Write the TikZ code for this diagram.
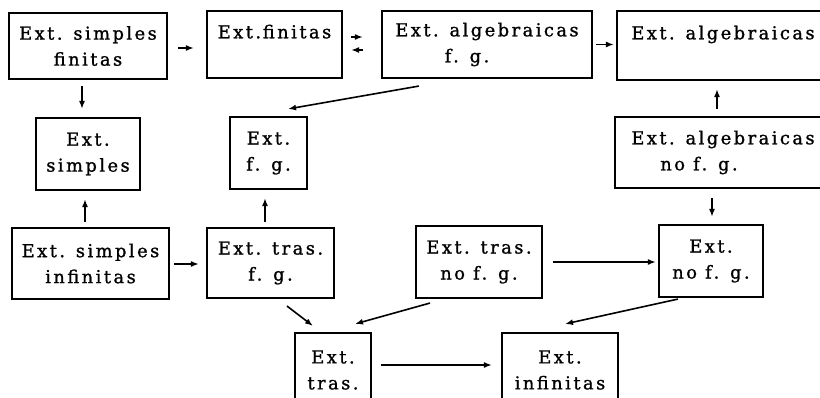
\documentclass[tikz,border=0pt]{standalone}
\usepackage{fontspec}
\setmainfont{DejaVu Serif}[LetterSpace=14, FakeBold=1.2]
\usetikzlibrary{calc,arrows.meta}
\begin{document}
\begin{tikzpicture}[x=0.5pt,y=-0.5pt,
  box/.style 2 args={draw, line width=1.05pt, minimum width=#1*0.5pt, minimum height=#2*0.5pt,
    inner sep=0pt, align=center, font=\fontsize{8.9}{13}\selectfont},
  arr/.style={line width=0.8pt, -{Latex[length=4pt,width=3pt]}}]
\useasboundingbox (0,0) rectangle (820,397);
\clip (0,0) rectangle (820,397);
\fill[white] (0,0) rectangle (820,397);
% nodes
\node[box={158}{66}]  (b1)  at (88,46)     {Ext. simples\\finitas};
\node[box={135}{67}]  (b2)  at (274.5,44.5){Ext.\hspace{0.1em}finitas\\\mbox{}};
\node[box={210}{67}]  (b3)  at (487,44.5)  {Ext. algebraicas\\f. g.\hspace*{20pt}};
\node[box={212}{69}]  (b4)  at (723,45.5)  {Ext. algebraicas\\\mbox{}};
\node[box={104}{72}]  (b5)  at (88,154)    {Ext.\\simples};
\node[box={77}{72}]   (b6)  at (268.5,153) {Ext.\\f. g.};
\node[box={216}{71}]  (b7)  at (723,152.5) {Ext. algebraicas\\no f. g.\hspace*{24pt}};
\node[box={157}{71}]  (b8)  at (90.5,263.5){Ext. simples\\infinitas};
\node[box={127}{70}]  (b9)  at (270.5,263) {Ext. tras.\\f. g.};
\node[box={126}{72}]  (b10) at (479,262)   {Ext. tras.\\no f. g.};
\node[box={104}{72}]  (b11) at (711,261)   {Ext.\\no f. g.};
\node[box={76}{74}]   (b12) at (333,370)   {Ext.\\tras.};
\node[box={116}{74}]  (b13) at (560,370)   {Ext.\\infinitas};
% connectors
\draw[arr] ($(b1.east)+(10,2)$) -- ($(b2.west)+(-12,3.5)$);
\draw[arr] ($(b2.east)+(8,-7.5)$) -- ($(b3.west)+(-18,-7.5)$);
\draw[arr] ($(b3.west)+(-18,5.5)$) -- ($(b2.east)+(8,5.5)$);
\draw[arr] ($(b3.east)+(3,0)$) -- ($(b4.west)+(-2,-1)$);
\draw[arr] ($(b3.south west)+(38,7)$) -- ($(b6.north east)+(-20,-7)$);
\draw[arr] ($(b1.south)+(-6,6)$) -- ($(b5.north)+(-6,-8)$);
\draw[arr] ($(b8.north)+(-5.5,-5)$) -- ($(b5.south)+(-3,8)$);
\draw[arr] ($(b9.north)+(-5.5,-5)$) -- ($(b6.south)+(-3.5,8)$);
\draw[arr] ($(b7.north)+(-6,-7)$) -- ($(b4.south)+(-6,8)$);
\draw[arr] ($(b7.south)+(-11,9)$) -- ($(b11.north)+(1,-7)$);
\draw[arr] ($(b8.east)+(4,0.5)$) -- ($(b9.west)+(-7,1)$);
\draw[arr] ($(b10.east)+(10,0)$) -- ($(b11.west)+(-2,1)$);
\draw[arr] ($(b9.south)+(16.5,7)$) -- ($(b12.north)+(-20,-6)$);
\draw[arr] ($(b10.south)+(-49,4)$) -- ($(b12.north)+(22,-8)$);
\draw[arr] ($(b11.south)+(-33,1)$) -- ($(b13.north)+(5,-8)$);
\draw[arr] ($(b12.east)+(9,-5)$) -- ($(b13.west)+(-9,-5)$);
\end{tikzpicture}
\end{document}
